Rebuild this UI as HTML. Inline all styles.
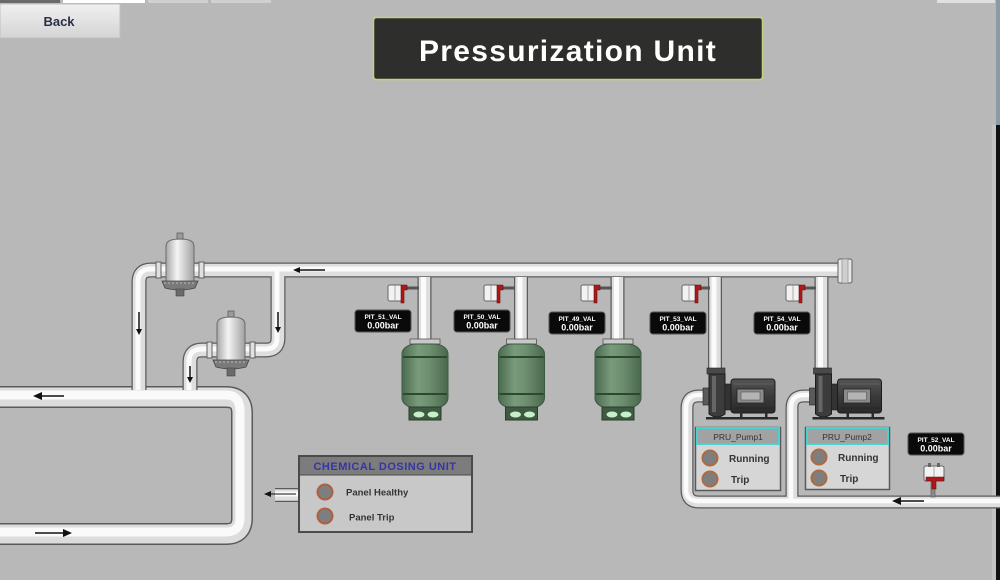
<!DOCTYPE html>
<html><head><meta charset="utf-8"><style>
html,body{margin:0;padding:0;background:#b8b8b8;}
body{width:1000px;height:580px;overflow:hidden;position:relative;font-family:"Liberation Sans",sans-serif;}
svg{position:absolute;left:0;top:0;}
</style></head><body>
<svg width="1000" height="580" viewBox="0 0 1000 580" xmlns="http://www.w3.org/2000/svg">
<defs>
<linearGradient id="btn" x1="0" y1="0" x2="0" y2="1"><stop offset="0" stop-color="#f0f0f0"/><stop offset="1" stop-color="#d4d4d4"/></linearGradient>
<linearGradient id="tank" x1="0" y1="0" x2="1" y2="0"><stop offset="0" stop-color="#4b6b50"/><stop offset="0.35" stop-color="#7a9a7c"/><stop offset="0.6" stop-color="#6e8e70"/><stop offset="1" stop-color="#4a684d"/></linearGradient>
<linearGradient id="filt" x1="0" y1="0" x2="1" y2="0"><stop offset="0" stop-color="#a8a8a8"/><stop offset="0.4" stop-color="#f4f4f4"/><stop offset="1" stop-color="#a0a0a0"/></linearGradient>
<linearGradient id="motor" x1="0" y1="0" x2="0" y2="1"><stop offset="0" stop-color="#555"/><stop offset="0.5" stop-color="#3a3a3a"/><stop offset="1" stop-color="#2a2a2a"/></linearGradient>
</defs>

<!-- top strip -->
<rect x="0" y="0" width="60" height="3" fill="#6a6a6a"/>
<rect x="63" y="0" width="82" height="3" fill="#ffffff"/>
<rect x="148" y="0" width="60" height="3" fill="#d0d0d0"/>
<rect x="211" y="0" width="60" height="3" fill="#d0d0d0"/>
<rect x="937" y="0" width="58" height="3" fill="#e0e0e0"/>
<!-- right edge -->
<rect x="996" y="0" width="4" height="125" fill="#8c9aa6"/>
<rect x="996" y="125" width="4" height="455" fill="#111"/>
<rect x="992" y="125" width="4" height="455" fill="#c4c4c4"/>

<!-- Back button -->
<rect x="0" y="4" width="120" height="34" fill="url(#btn)" stroke="#c0c0c0" stroke-width="1"/>
<text x="59" y="26" text-anchor="middle" font-size="13" font-weight="bold" fill="#2a2f45">Back</text>

<!-- Title -->
<rect x="373.5" y="17.5" width="389" height="62" rx="3" fill="#2e2e2c" stroke="#c9d07c" stroke-width="1.5"/>
<text x="568" y="61" text-anchor="middle" font-size="30" font-weight="bold" letter-spacing="1.3" fill="#ffffff">Pressurization Unit</text>

<!-- PIPES -->
<g fill="none" stroke-linejoin="round">
  <!-- loop -->
  <path d="M-5,397 H226 Q242,397 242,413 V518 Q242,534 226,534 H-5" stroke="#5a5a5a" stroke-width="22"/>
  <path d="M-5,397 H226 Q242,397 242,413 V518 Q242,534 226,534 H-5" stroke="#dcdcdc" stroke-width="19"/>
  <path d="M-5,395 H226 Q240,395 240,411 V518 Q240,532 226,532 H-5" stroke="#fafafa" stroke-width="9"/>

  <g>
  <path d="M139,390 V282 Q139,270 151,270 H845" stroke="#5a5a5a" stroke-width="15"/>
  <path d="M278,270 V338 Q278,350 266,350 H202 Q190,350 190,362 V390" stroke="#5a5a5a" stroke-width="15"/>
  <path d="M275,495 H300" stroke="#5a5a5a" stroke-width="14"/>
  <path d="M424.5,277 V342 M521,277 V342 M617.5,277 V342 M715,277 V372 M821.5,277 V372" stroke="#5a5a5a" stroke-width="14"/>
  <path d="M1005,502 H699 Q687,502 687,490 V408 Q687,396 699,396 H706" stroke="#5a5a5a" stroke-width="13"/>
  <path d="M792,502 V408 Q792,396 804,396 H813" stroke="#5a5a5a" stroke-width="13"/>
  </g>
  <g stroke="#dedede">
  <path d="M139,390 V282 Q139,270 151,270 H845" stroke-width="12.5"/>
  <path d="M278,270 V338 Q278,350 266,350 H202 Q190,350 190,362 V390" stroke-width="12.5"/>
  <path d="M275,495 H300" stroke-width="11.5"/>
  <path d="M424.5,277 V342 M521,277 V342 M617.5,277 V342 M715,277 V372 M821.5,277 V372" stroke-width="11.5"/>
  <path d="M1005,502 H699 Q687,502 687,490 V408 Q687,396 699,396 H706" stroke-width="10.5"/>
  <path d="M792,502 V408 Q792,396 804,396 H813" stroke-width="10.5"/>
  </g>
  <g stroke="#fbfbfb">
  <path d="M138,390 V282 Q138,269 151,269 H845" stroke-width="5"/>
  <path d="M277,269 V338 Q277,349 266,349 H202 Q189,349 189,362 V390" stroke-width="5"/>
  <path d="M275,494 H300" stroke-width="5"/>
  <path d="M423.5,277 V342 M520,277 V342 M616.5,277 V342 M714,277 V372 M820.5,277 V372" stroke-width="5"/>
  <path d="M1005,501 H699 Q686,501 686,490 V408 Q686,395 699,395 H706" stroke-width="4.5"/>
  <path d="M791,501 V408 Q791,395 804,395 H813" stroke-width="4.5"/>
  </g>
</g>
<!-- header end cap -->
<rect x="838" y="259" width="14" height="24" rx="2" fill="#e6e6e6" stroke="#606060"/>
<rect x="842" y="259" width="6" height="24" fill="#cfcfcf" stroke="#808080" stroke-width="0.6"/>

<!-- arrows -->
<g stroke="#111" stroke-width="1.5" fill="#111">
  <line x1="298" y1="270" x2="325" y2="270"/><path d="M293,270 l7,-3 v6z" stroke="none"/>
  <line x1="139" y1="312" x2="139" y2="330"/><path d="M139,335 l-3,-6 h6z" stroke="none"/>
  <line x1="278" y1="312" x2="278" y2="328"/><path d="M278,333 l-3,-6 h6z" stroke="none"/>
  <line x1="190" y1="366" x2="190" y2="378"/><path d="M190,383 l-3,-6 h6z" stroke="none"/>
  <line x1="40" y1="396" x2="64" y2="396"/><path d="M33,396 l9,-4 v8z" stroke="none"/>
  <line x1="35" y1="533" x2="64" y2="533"/><path d="M72,533 l-9,-4 v8z" stroke="none"/>
  <line x1="270" y1="494" x2="296" y2="494" stroke-width="1"/><path d="M264,494 l7,-3 v6z" stroke="none"/>
  <line x1="900" y1="501" x2="924" y2="501"/><path d="M892,501 l9,-4 v8z" stroke="none"/>
</g>

<!-- filters -->
<g>
  <rect x="156" y="262" width="5" height="16" fill="#e0e0e0" stroke="#606060" stroke-width="1"/>
  <rect x="199" y="262" width="5" height="16" fill="#e0e0e0" stroke="#606060" stroke-width="1"/>
  <path d="M166,282 V246 Q166,239 180,239 Q194,239 194,246 V282 Z" fill="url(#filt)" stroke="#6a6a6a"/>
  <rect x="177" y="233" width="6" height="6" fill="#9a9a9a" stroke="#555" stroke-width="0.7"/>
  <path d="M162,281 H198 L195,288 Q180,292 165,288 Z" fill="#7a7a7a" stroke="#444" stroke-width="0.8"/>
  <line x1="164" y1="283" x2="196" y2="283" stroke="#bbb" stroke-width="1" stroke-dasharray="2,2"/>
  <rect x="176" y="289" width="8" height="7" fill="#6a6a6a" stroke="#444" stroke-width="0.6"/>
</g>
<g>
  <rect x="207" y="342" width="5" height="16" fill="#e0e0e0" stroke="#606060" stroke-width="1"/>
  <rect x="250" y="342" width="5" height="16" fill="#e0e0e0" stroke="#606060" stroke-width="1"/>
  <path d="M217,361 V324 Q217,317 231,317 Q245,317 245,324 V361 Z" fill="url(#filt)" stroke="#6a6a6a"/>
  <rect x="228" y="311" width="6" height="6" fill="#9a9a9a" stroke="#555" stroke-width="0.7"/>
  <path d="M213,360 H249 L246,367 Q231,371 216,367 Z" fill="#7a7a7a" stroke="#444" stroke-width="0.8"/>
  <line x1="215" y1="362" x2="247" y2="362" stroke="#bbb" stroke-width="1" stroke-dasharray="2,2"/>
  <rect x="227" y="368" width="8" height="8" fill="#6a6a6a" stroke="#444" stroke-width="0.6"/>
</g>

<!-- tanks -->
<g>
  <g>
    <rect x="410" y="339" width="30" height="5" fill="#c8c8c8" stroke="#555" stroke-width="0.8"/>
    <rect x="402" y="344" width="46" height="64" rx="14" ry="10" fill="url(#tank)" stroke="#3a5a3e"/>
    <line x1="403" y1="357" x2="447" y2="357" stroke="#2c4830" stroke-width="2"/>
    <line x1="403" y1="394" x2="447" y2="394" stroke="#2c4830" stroke-width="2"/>
    <rect x="409" y="407" width="32" height="13" fill="#3e5a42" stroke="#2a3e2c"/>
    <ellipse cx="419" cy="414.5" rx="5.5" ry="3" fill="#c8f0c8"/>
    <ellipse cx="433" cy="414.5" rx="5.5" ry="3" fill="#c8f0c8"/>
  </g>
  <g transform="translate(96.5,0)">
    <rect x="410" y="339" width="30" height="5" fill="#c8c8c8" stroke="#555" stroke-width="0.8"/>
    <rect x="402" y="344" width="46" height="64" rx="14" ry="10" fill="url(#tank)" stroke="#3a5a3e"/>
    <line x1="403" y1="357" x2="447" y2="357" stroke="#2c4830" stroke-width="2"/>
    <line x1="403" y1="394" x2="447" y2="394" stroke="#2c4830" stroke-width="2"/>
    <rect x="409" y="407" width="32" height="13" fill="#3e5a42" stroke="#2a3e2c"/>
    <ellipse cx="419" cy="414.5" rx="5.5" ry="3" fill="#c8f0c8"/>
    <ellipse cx="433" cy="414.5" rx="5.5" ry="3" fill="#c8f0c8"/>
  </g>
  <g transform="translate(193,0)">
    <rect x="410" y="339" width="30" height="5" fill="#c8c8c8" stroke="#555" stroke-width="0.8"/>
    <rect x="402" y="344" width="46" height="64" rx="14" ry="10" fill="url(#tank)" stroke="#3a5a3e"/>
    <line x1="403" y1="357" x2="447" y2="357" stroke="#2c4830" stroke-width="2"/>
    <line x1="403" y1="394" x2="447" y2="394" stroke="#2c4830" stroke-width="2"/>
    <rect x="409" y="407" width="32" height="13" fill="#3e5a42" stroke="#2a3e2c"/>
    <ellipse cx="419" cy="414.5" rx="5.5" ry="3" fill="#c8f0c8"/>
    <ellipse cx="433" cy="414.5" rx="5.5" ry="3" fill="#c8f0c8"/>
  </g>
</g>

<!-- transmitters -->
<g>
  <g transform="translate(388,283)">
    <line x1="18" y1="5" x2="31" y2="5" stroke="#555" stroke-width="3"/>
    <rect x="0" y="2" width="14" height="16" rx="2" fill="#f2f2f2" stroke="#666"/>
    <line x1="7" y1="2" x2="7" y2="18" stroke="#999" stroke-width="0.8"/>
    <path d="M13,2 h6 v5 h-3 v13 h-3 z" fill="#b01818" stroke="#601010" stroke-width="0.6"/>
  </g>
  <g transform="translate(484,283)">
    <line x1="18" y1="5" x2="31" y2="5" stroke="#555" stroke-width="3"/>
    <rect x="0" y="2" width="14" height="16" rx="2" fill="#f2f2f2" stroke="#666"/>
    <line x1="7" y1="2" x2="7" y2="18" stroke="#999" stroke-width="0.8"/>
    <path d="M13,2 h6 v5 h-3 v13 h-3 z" fill="#b01818" stroke="#601010" stroke-width="0.6"/>
  </g>
  <g transform="translate(581,283)">
    <line x1="18" y1="5" x2="31" y2="5" stroke="#555" stroke-width="3"/>
    <rect x="0" y="2" width="14" height="16" rx="2" fill="#f2f2f2" stroke="#666"/>
    <line x1="7" y1="2" x2="7" y2="18" stroke="#999" stroke-width="0.8"/>
    <path d="M13,2 h6 v5 h-3 v13 h-3 z" fill="#b01818" stroke="#601010" stroke-width="0.6"/>
  </g>
  <g transform="translate(682,283)">
    <line x1="18" y1="5" x2="28" y2="5" stroke="#555" stroke-width="3"/>
    <rect x="0" y="2" width="14" height="16" rx="2" fill="#f2f2f2" stroke="#666"/>
    <line x1="7" y1="2" x2="7" y2="18" stroke="#999" stroke-width="0.8"/>
    <path d="M13,2 h6 v5 h-3 v13 h-3 z" fill="#b01818" stroke="#601010" stroke-width="0.6"/>
  </g>
  <g transform="translate(786,283)">
    <line x1="18" y1="5" x2="30" y2="5" stroke="#555" stroke-width="3"/>
    <rect x="0" y="2" width="14" height="16" rx="2" fill="#f2f2f2" stroke="#666"/>
    <line x1="7" y1="2" x2="7" y2="18" stroke="#999" stroke-width="0.8"/>
    <path d="M13,2 h6 v5 h-3 v13 h-3 z" fill="#b01818" stroke="#601010" stroke-width="0.6"/>
  </g>
  <g transform="translate(924,463)">
    <rect x="7" y="16" width="4" height="18" fill="#8a8a8a" stroke="#555" stroke-width="0.6"/>
    <rect x="0" y="3" width="20" height="15" rx="2" fill="#f2f2f2" stroke="#666"/>
    <line x1="10" y1="3" x2="10" y2="18" stroke="#999" stroke-width="0.8"/>
    <rect x="4" y="0" width="3" height="4" fill="#666"/>
    <rect x="13" y="0" width="3" height="4" fill="#666"/>
    <path d="M2,14 h18 v4 h-8 v8 h-4 v-8 h-6 z" fill="#b01818" stroke="#601010" stroke-width="0.6"/>
  </g>
</g>

<!-- value labels -->
<g font-family="Liberation Sans, sans-serif" fill="#fff" text-anchor="middle">
  <g transform="translate(355,310)"><rect x="0" y="0" width="56" height="22" rx="3" fill="#0a0a0a" stroke="#555"/><text x="28" y="9" font-size="6.5" font-weight="bold">PIT_51_VAL</text><text x="28" y="18.5" font-size="9" font-weight="bold">0.00bar</text></g>
  <g transform="translate(454,310)"><rect x="0" y="0" width="56" height="22" rx="3" fill="#0a0a0a" stroke="#555"/><text x="28" y="9" font-size="6.5" font-weight="bold">PIT_50_VAL</text><text x="28" y="18.5" font-size="9" font-weight="bold">0.00bar</text></g>
  <g transform="translate(549,312)"><rect x="0" y="0" width="56" height="22" rx="3" fill="#0a0a0a" stroke="#555"/><text x="28" y="9" font-size="6.5" font-weight="bold">PIT_49_VAL</text><text x="28" y="18.5" font-size="9" font-weight="bold">0.00bar</text></g>
  <g transform="translate(650,312)"><rect x="0" y="0" width="56" height="22" rx="3" fill="#0a0a0a" stroke="#555"/><text x="28" y="9" font-size="6.5" font-weight="bold">PIT_53_VAL</text><text x="28" y="18.5" font-size="9" font-weight="bold">0.00bar</text></g>
  <g transform="translate(754,312)"><rect x="0" y="0" width="56" height="22" rx="3" fill="#0a0a0a" stroke="#555"/><text x="28" y="9" font-size="6.5" font-weight="bold">PIT_54_VAL</text><text x="28" y="18.5" font-size="9" font-weight="bold">0.00bar</text></g>
  <g transform="translate(908,433)"><rect x="0" y="0" width="56" height="22" rx="3" fill="#0a0a0a" stroke="#555"/><text x="28" y="9" font-size="6.5" font-weight="bold">PIT_52_VAL</text><text x="28" y="18.5" font-size="9" font-weight="bold">0.00bar</text></g>
</g>

<!-- pumps -->
<g>
  <rect x="707" y="368" width="18" height="6" fill="#4a4a4a" stroke="#222" stroke-width="0.6"/>
  <rect x="703" y="388" width="7" height="17" fill="#5a5a5a" stroke="#222" stroke-width="0.6"/>
  <path d="M709,374 H725 V414 Q717,420 709,414 Z" fill="#3c3c3c" stroke="#1c1c1c"/>
  <rect x="712" y="376" width="4" height="36" fill="#666"/>
  <rect x="725" y="384" width="6" height="26" fill="#333" stroke="#1c1c1c" stroke-width="0.6"/>
  <rect x="731" y="379" width="44" height="34" rx="3" fill="url(#motor)" stroke="#1c1c1c"/>
  <rect x="737" y="389" width="27" height="14" fill="#8a8a8a" stroke="#222" stroke-width="0.8"/>
  <rect x="741" y="392" width="19" height="8" fill="#b4b4b4" stroke="#555" stroke-width="0.6"/>
  <line x1="733" y1="384" x2="773" y2="384" stroke="#666" stroke-width="0.8"/>
  <line x1="733" y1="408" x2="773" y2="408" stroke="#222" stroke-width="0.8"/>
  <rect x="706" y="417" width="72" height="2.5" fill="#2a2a2a"/>
  <rect x="740" y="412" width="2.5" height="6" fill="#2a2a2a"/><rect x="765" y="412" width="2.5" height="6" fill="#2a2a2a"/>
</g>
<g transform="translate(106.5,0)">
  <rect x="707" y="368" width="18" height="6" fill="#4a4a4a" stroke="#222" stroke-width="0.6"/>
  <rect x="703" y="388" width="7" height="17" fill="#5a5a5a" stroke="#222" stroke-width="0.6"/>
  <path d="M709,374 H725 V414 Q717,420 709,414 Z" fill="#3c3c3c" stroke="#1c1c1c"/>
  <rect x="712" y="376" width="4" height="36" fill="#666"/>
  <rect x="725" y="384" width="6" height="26" fill="#333" stroke="#1c1c1c" stroke-width="0.6"/>
  <rect x="731" y="379" width="44" height="34" rx="3" fill="url(#motor)" stroke="#1c1c1c"/>
  <rect x="737" y="389" width="27" height="14" fill="#8a8a8a" stroke="#222" stroke-width="0.8"/>
  <rect x="741" y="392" width="19" height="8" fill="#b4b4b4" stroke="#555" stroke-width="0.6"/>
  <line x1="733" y1="384" x2="773" y2="384" stroke="#666" stroke-width="0.8"/>
  <line x1="733" y1="408" x2="773" y2="408" stroke="#222" stroke-width="0.8"/>
  <rect x="706" y="417" width="72" height="2.5" fill="#2a2a2a"/>
  <rect x="740" y="412" width="2.5" height="6" fill="#2a2a2a"/><rect x="765" y="412" width="2.5" height="6" fill="#2a2a2a"/>
</g>

<!-- pump status boxes -->
<g font-family="Liberation Sans, sans-serif">
  <rect x="695.5" y="427.5" width="85" height="63" fill="#d6d6d6" stroke="#5a5a5a" stroke-width="1.5"/>
  <rect x="697" y="428" width="82" height="16" fill="#a2a2a2" stroke="#44d2d2" stroke-width="2"/>
  <text x="738" y="440" text-anchor="middle" font-size="8.5" fill="#333">PRU_Pump1</text>
  <circle cx="710" cy="458" r="7.5" fill="#7e7e7e" stroke="#b06a40" stroke-width="2"/>
  <circle cx="710" cy="479" r="7.5" fill="#7e7e7e" stroke="#b06a40" stroke-width="2"/>
  <text x="729" y="462" font-size="10" font-weight="bold" fill="#333">Running</text>
  <text x="731" y="483" font-size="10" font-weight="bold" fill="#333">Trip</text>

  <rect x="805.5" y="427.5" width="84" height="62" fill="#d6d6d6" stroke="#5a5a5a" stroke-width="1.5"/>
  <rect x="807" y="428" width="81" height="16" fill="#a2a2a2" stroke="#44d2d2" stroke-width="2"/>
  <text x="847" y="440" text-anchor="middle" font-size="8.5" fill="#333">PRU_Pump2</text>
  <circle cx="819" cy="457" r="7.5" fill="#7e7e7e" stroke="#b06a40" stroke-width="2"/>
  <circle cx="819" cy="478" r="7.5" fill="#7e7e7e" stroke="#b06a40" stroke-width="2"/>
  <text x="838" y="461" font-size="10" font-weight="bold" fill="#333">Running</text>
  <text x="840" y="482" font-size="10" font-weight="bold" fill="#333">Trip</text>
</g>

<!-- chemical dosing unit -->
<g font-family="Liberation Sans, sans-serif">
  <rect x="299" y="456" width="173" height="76" fill="#c8c8c8" stroke="#4a4a4a" stroke-width="2"/>
  <rect x="300" y="457" width="171" height="18" fill="#7c7c7c"/>
  <line x1="300" y1="475" x2="471" y2="475" stroke="#4a4a4a" stroke-width="1"/>
  <text x="385" y="470" text-anchor="middle" font-size="11" font-weight="bold" letter-spacing="0.5" fill="#3535a5">CHEMICAL DOSING UNIT</text>
  <circle cx="325" cy="492" r="7.5" fill="#7e7e7e" stroke="#b06040" stroke-width="2"/>
  <circle cx="325" cy="516" r="7.5" fill="#7e7e7e" stroke="#b06040" stroke-width="2"/>
  <text x="346" y="495.5" font-size="9.5" font-weight="bold" fill="#333">Panel Healthy</text>
  <text x="349" y="520.5" font-size="9.5" font-weight="bold" fill="#333">Panel Trip</text>
</g>
</svg>
</body></html>
